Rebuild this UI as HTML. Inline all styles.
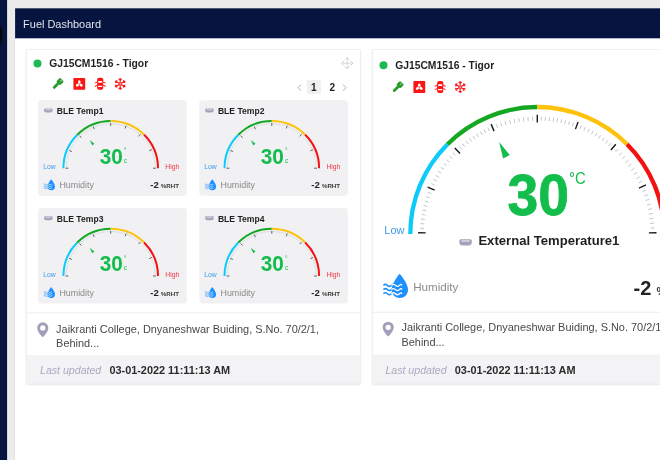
<!DOCTYPE html>
<html><head><meta charset="utf-8"><title>Fuel Dashboard</title>
<style>
html,body{margin:0;padding:0;}
body{width:660px;height:460px;overflow:hidden;background:#ebebeb;font-family:"Liberation Sans",sans-serif;}
svg{display:block;font-family:"Liberation Sans",sans-serif;}
text{white-space:pre;}
</style></head>
<body>
<svg width="660" height="460" viewBox="0 0 660 460">
<defs><filter id="sh" x="-5%" y="-5%" width="110%" height="110%"><feGaussianBlur stdDeviation="1"/></filter></defs><rect x="0" y="0" width="660" height="460" fill="#ebebeb"/><rect x="0" y="0" width="7.100" height="460" fill="#06153f"/><circle cx="-21.600" cy="35.300" r="24" fill="#05070f"/><rect x="14.400" y="38" width="1" height="422" fill="#e0e0e0"/><rect x="15.100" y="8.300" width="645" height="452" fill="#fff"/><rect x="15.100" y="8.300" width="645" height="30" fill="#06153f"/><text x="23.1" y="27.9" font-size="10.96" fill="#e1e4ee">Fuel Dashboard</text><rect x="26.6" y="50.8" width="333.7" height="333.5" fill="#000" opacity="0.160" filter="url(#sh)"/><rect x="26.1" y="49.3" width="334.7" height="334.5" fill="#e6e6e9"/><rect x="26.6" y="49.8" width="333.7" height="333.5" fill="#fff"/><rect x="26.6" y="355.2" width="333.7" height="28.1" fill="#f3f3f6"/><rect x="26.6" y="312.3" width="333.7" height="1" fill="#ededee"/><rect x="372.7" y="50.8" width="334" height="333.5" fill="#000" opacity="0.160" filter="url(#sh)"/><rect x="372.2" y="49.3" width="335" height="334.5" fill="#e6e6e9"/><rect x="372.7" y="49.8" width="334" height="333.5" fill="#fff"/><rect x="372.7" y="354.5" width="334" height="28.8" fill="#f3f3f6"/><rect x="372.7" y="311.7" width="334" height="1" fill="#ededee"/><circle cx="37.500" cy="63.600" r="4" fill="#1db954"/><text x="49.2" y="67.4" font-size="10.32" font-weight="700" fill="#1f1f1f">GJ15CM1516 - Tigor</text><g transform="translate(52.3 78.1)"><g transform="rotate(45 5.700 5.500)" fill="#2a9b2f"><rect x="2.900" y="-0.200" width="5.600" height="5.600" rx="1.300"/><rect x="4.300" y="4.800" width="2.800" height="7.400" rx="1.200"/><rect x="5.100" y="0.700" width="1.300" height="1.500" rx="0.500" fill="#b5e2b5"/></g></g><g transform="translate(73.4 77.9)"><rect x="0" y="0" width="11.800" height="11.800" rx="0.600" fill="#fb1616"/><g fill="#fff" transform="translate(5.900 6.200)"><ellipse cx="0" cy="-2.100" rx="1.300" ry="1.700" transform="rotate(0)"/><ellipse cx="0" cy="-2.100" rx="1.300" ry="1.700" transform="rotate(120)"/><ellipse cx="0" cy="-2.100" rx="1.300" ry="1.700" transform="rotate(240)"/><circle cx="0" cy="0" r="1.100"/></g><circle cx="5.900" cy="6.200" r="0.600" fill="#fb1616"/></g><g transform="translate(94.4 77.8)" fill="#fb1616"><rect x="2.700" y="0" width="6.200" height="12" rx="2"/><path d="M0.200 5L2.800 3.600V4.700L0.600 5.800ZM11.400 5L8.800 3.600V4.700L11 5.800ZM0.200 8.300L2.800 6.900V8L0.600 9.100ZM11.400 8.300L8.800 6.900V8L11 9.100Z"/><rect x="3.600" y="3.300" width="4.400" height="1.600" rx="0.800" fill="#fff"/><rect x="3.600" y="8" width="4.400" height="1.300" rx="0.600" fill="#fff"/></g><g transform="translate(120.2 83.9)" stroke="#fb1616" stroke-width="1.100" fill="none"><g transform="rotate(0)"><path d="M0 -6V-1.300M0 1.300V6M-1.500 -5L0 -3.600L1.500 -5M-1.500 5L0 3.600L1.500 5"/></g><g transform="rotate(60)"><path d="M0 -6V-1.300M0 1.300V6M-1.500 -5L0 -3.600L1.500 -5M-1.500 5L0 3.600L1.500 5"/></g><g transform="rotate(120)"><path d="M0 -6V-1.300M0 1.300V6M-1.500 -5L0 -3.600L1.500 -5M-1.500 5L0 3.600L1.500 5"/></g><rect x="-1.100" y="-1.100" width="2.200" height="2.200" stroke-width="0.900"/></g><g transform="translate(347.2 63.2)" stroke="#c2c2c6" stroke-width="0.900" fill="none" stroke-linecap="round" stroke-linejoin="round"><path d="M-1.900 -3.700L0 -5.600L1.900 -3.700M-1.900 3.700L0 5.600L1.900 3.700M-3.700 -1.900L-5.600 0L-3.700 1.900M3.700 -1.900L5.600 0L3.700 1.900"/><path d="M0 -3.600V3.600M-3.600 0H3.600" stroke-dasharray="0.900 1.300" stroke-width="0.800"/></g><rect x="306.800" y="80" width="14.100" height="14" rx="1" fill="#f0f0f0"/><path d="M301 84.600L298 87.700L301 90.800M343 84.600L346 87.700L343 90.800" stroke="#9a9a9a" stroke-width="0.800" fill="none"/><text x="313.8" y="90.6" font-size="10.1" font-weight="700" fill="#222" text-anchor="middle">1</text><text x="332.3" y="90.6" font-size="10.1" font-weight="700" fill="#222" text-anchor="middle">2</text><rect x="38.2" y="100.2" width="148.600" height="95.600" rx="3" fill="#f1f1f3"/><g transform="translate(44.1 108.4)"><path d="M1.02 0H7.47Q8.5 0 8.5 1.23V2.05Q8.5 4.1 6.45 4.1H2.05Q0 4.1 0 2.05V1.23Q0 0 1.02 0Z" fill="#a5a2ba"/><rect x="1.36" y="0.57" width="5.78" height="1.23" rx="0.61" fill="#cfcddb"/></g><text x="56.8" y="114.3" font-size="8.6" font-weight="700" fill="#1f1f1f">BLE Temp1</text><path d="M63.4 168.2A47.3 47.3 0 0 1 77.25 134.75" stroke="#0ccbfa" stroke-width="2" fill="none"/><path d="M77.25 134.75A47.3 47.3 0 0 1 110.7 120.9" stroke="#14a722" stroke-width="2" fill="none"/><path d="M110.7 120.9A47.3 47.3 0 0 1 144.15 134.75" stroke="#fdc20d" stroke-width="2" fill="none"/><path d="M144.15 134.75A47.3 47.3 0 0 1 158 168.2" stroke="#f31212" stroke-width="2" fill="none"/><path d="M65.64 166.38L66.84 166.43M65.75 164.57L66.94 164.66M65.93 162.76L67.12 162.9M66.19 160.96L67.37 161.15M66.51 159.17L67.69 159.41M66.91 157.4L68.08 157.68M67.38 155.64L68.54 155.97M67.93 153.9L69.06 154.28M68.54 152.19L69.66 152.62M69.96 148.85L71.05 149.36M70.78 147.22L71.84 147.78M71.65 145.63L72.69 146.23M72.6 144.07L73.61 144.72M73.6 142.56L74.59 143.24M74.66 141.08L75.62 141.8M75.78 139.65L76.71 140.41M76.96 138.27L77.86 139.07M78.2 136.93L79.06 137.77M80.7 134.53L81.5 135.42M81.95 133.45L82.72 134.37M83.24 132.42L83.98 133.37M84.57 131.44L85.27 132.42M85.94 130.51L86.6 131.51M87.34 129.62L87.96 130.65M88.77 128.79L89.35 129.84M90.23 128.02L90.77 129.08M91.71 127.29L92.22 128.38M94.89 125.96L95.31 127.09M96.58 125.37L96.96 126.51M98.3 124.84L98.63 125.99M100.03 124.38L100.32 125.55M101.79 123.99L102.02 125.17M103.55 123.67L103.74 124.85M105.33 123.42L105.47 124.61M107.11 123.24L107.21 124.44M108.91 123.14L108.95 124.33M112.27 123.13L112.23 124.33M113.85 123.21L113.76 124.41M115.41 123.35L115.29 124.54M116.98 123.54L116.81 124.73M118.53 123.79L118.32 124.97M120.08 124.09L119.83 125.26M121.61 124.44L121.32 125.6M123.13 124.85L122.8 126M124.64 125.31L124.27 126.45M127.68 126.42L127.23 127.53M129.22 127.08L128.72 128.17M130.72 127.79L130.19 128.86M132.21 128.56L131.63 129.61M133.66 129.38L133.05 130.41M135.08 130.26L134.43 131.27M136.47 131.18L135.78 132.17M137.82 132.16L137.1 133.12M139.13 133.19L138.37 134.12M141.83 135.57L141 136.44M143.2 136.93L142.33 137.76M144.5 138.35L143.6 139.14M145.75 139.82L144.82 140.57M146.93 141.34L145.97 142.06M148.05 142.92L147.05 143.59M149.09 144.53L148.07 145.16M150.07 146.2L149.02 146.78M150.97 147.9L149.9 148.44M152.55 151.4L151.44 151.85M153.23 153.19L152.1 153.59M153.83 155.01L152.68 155.36M154.35 156.85L153.19 157.15M154.79 158.71L153.62 158.96M155.15 160.59L153.97 160.79M155.44 162.48L154.25 162.63M155.64 164.38L154.44 164.48M155.76 166.29L154.56 166.34" stroke="#b9bec6" stroke-width="0.55" fill="none"/><path d="M65.5 168.2L68.4 168.2M69.12 150.47L71.79 151.6M79.42 135.58L81.42 137.67M93.18 126.53L94.31 129.21M110.7 123L110.7 125.9M126.16 125.73L125.17 128.45M140.47 134.19L138.56 136.37M151.9 149.6L149.25 150.79M155.9 168.2L153 168.2" stroke="#505050" stroke-width="0.9" fill="none"/><polygon points="89.7,139.9 92.25,145.4 94.4,143.75" fill="#13bd4c"/><text x="43.2" y="169.1" font-size="6.8" fill="#3d9be9">Low</text><text x="179.3" y="169.1" font-size="6.8" fill="#f0364a" text-anchor="end">High</text><text transform="translate(99.7 163.6) scale(0.92 1)" font-size="22.6" font-weight="700" fill="#13bd4c">30</text><text x="123.8" y="153.2" font-size="6.5" fill="#13bd4c">°</text><text x="123.8" y="162.5" font-size="6.5" fill="#13bd4c">c</text><g transform="translate(43.5 178.6) scale(0.45)"><path d="M17 1.300C17 1.300 9 10.800 9 17.400A8 8 0 0 0 25.500 17.400C25.500 10.800 17 1.300 17 1.300Z" fill="#1e90ff"/><path d="M0.800 13q2-2 4 0t4 0t4 0t4 0M0.800 17.200q2-2 4 0t4 0t4 0t4 0M0.800 21.400q2-2 4 0t4 0t4 0t4 0" stroke="#1e90ff" stroke-width="1.500" fill="none"/><path d="M8.800 13q2-2 4 0t4 0t2.500 0M8.800 17.200q2-2 4 0t4 0t2.500 0M8.800 21.400q2-2 4 0t4 0t2.500 0" stroke="#fff" stroke-width="1.300" fill="none"/></g><text x="59.4" y="187.9" font-size="8.9" fill="#8a8a8a">Humidity</text><text x="158.8" y="187.9" font-size="9.6" font-weight="700" fill="#222" text-anchor="end">-2</text><text x="179" y="187.9" font-size="6.2" font-weight="700" fill="#3a3a3a" text-anchor="end">%RHT</text><rect x="199.3" y="100.2" width="148.600" height="95.600" rx="3" fill="#f1f1f3"/><g transform="translate(205.2 108.4)"><path d="M1.02 0H7.47Q8.5 0 8.5 1.23V2.05Q8.5 4.1 6.45 4.1H2.05Q0 4.1 0 2.05V1.23Q0 0 1.02 0Z" fill="#a5a2ba"/><rect x="1.36" y="0.57" width="5.78" height="1.23" rx="0.61" fill="#cfcddb"/></g><text x="217.9" y="114.3" font-size="8.6" font-weight="700" fill="#1f1f1f">BLE Temp2</text><path d="M224.5 168.2A47.3 47.3 0 0 1 238.35 134.75" stroke="#0ccbfa" stroke-width="2" fill="none"/><path d="M238.35 134.75A47.3 47.3 0 0 1 271.8 120.9" stroke="#14a722" stroke-width="2" fill="none"/><path d="M271.8 120.9A47.3 47.3 0 0 1 305.25 134.75" stroke="#fdc20d" stroke-width="2" fill="none"/><path d="M305.25 134.75A47.3 47.3 0 0 1 319.1 168.2" stroke="#f31212" stroke-width="2" fill="none"/><path d="M226.74 166.38L227.94 166.43M226.85 164.57L228.04 164.66M227.03 162.76L228.22 162.9M227.29 160.96L228.47 161.15M227.61 159.17L228.79 159.41M228.01 157.4L229.18 157.68M228.48 155.64L229.64 155.97M229.03 153.9L230.16 154.28M229.64 152.19L230.76 152.62M231.06 148.85L232.15 149.36M231.88 147.22L232.94 147.78M232.75 145.63L233.79 146.23M233.7 144.07L234.71 144.72M234.7 142.56L235.69 143.24M235.76 141.08L236.72 141.8M236.88 139.65L237.81 140.41M238.06 138.27L238.96 139.07M239.3 136.93L240.16 137.77M241.8 134.53L242.6 135.42M243.05 133.45L243.82 134.37M244.34 132.42L245.08 133.37M245.67 131.44L246.37 132.42M247.04 130.51L247.7 131.51M248.44 129.62L249.06 130.65M249.87 128.79L250.45 129.84M251.33 128.02L251.87 129.08M252.81 127.29L253.32 128.38M255.99 125.96L256.41 127.09M257.68 125.37L258.06 126.51M259.4 124.84L259.73 125.99M261.13 124.38L261.42 125.55M262.89 123.99L263.12 125.17M264.65 123.67L264.84 124.85M266.43 123.42L266.57 124.61M268.21 123.24L268.31 124.44M270.01 123.14L270.05 124.33M273.37 123.13L273.33 124.33M274.95 123.21L274.86 124.41M276.51 123.35L276.39 124.54M278.08 123.54L277.91 124.73M279.63 123.79L279.42 124.97M281.18 124.09L280.93 125.26M282.71 124.44L282.42 125.6M284.23 124.85L283.9 126M285.74 125.31L285.37 126.45M288.78 126.42L288.33 127.53M290.32 127.08L289.82 128.17M291.82 127.79L291.29 128.86M293.31 128.56L292.73 129.61M294.76 129.38L294.15 130.41M296.18 130.26L295.53 131.27M297.57 131.18L296.88 132.17M298.92 132.16L298.2 133.12M300.23 133.19L299.47 134.12M302.93 135.57L302.1 136.44M304.3 136.93L303.43 137.76M305.6 138.35L304.7 139.14M306.85 139.82L305.92 140.57M308.03 141.34L307.07 142.06M309.15 142.92L308.15 143.59M310.19 144.53L309.17 145.16M311.17 146.2L310.12 146.78M312.07 147.9L311 148.44M313.65 151.4L312.54 151.85M314.33 153.19L313.2 153.59M314.93 155.01L313.78 155.36M315.45 156.85L314.29 157.15M315.89 158.71L314.72 158.96M316.25 160.59L315.07 160.79M316.54 162.48L315.35 162.63M316.74 164.38L315.54 164.48M316.86 166.29L315.66 166.34" stroke="#b9bec6" stroke-width="0.55" fill="none"/><path d="M226.6 168.2L229.5 168.2M230.22 150.47L232.89 151.6M240.52 135.58L242.52 137.67M254.28 126.53L255.41 129.21M271.8 123L271.8 125.9M287.26 125.73L286.27 128.45M301.57 134.19L299.66 136.37M313 149.6L310.35 150.79M317 168.2L314.1 168.2" stroke="#505050" stroke-width="0.9" fill="none"/><polygon points="250.8,139.9 253.35,145.4 255.5,143.75" fill="#13bd4c"/><text x="204.3" y="169.1" font-size="6.8" fill="#3d9be9">Low</text><text x="340.4" y="169.1" font-size="6.8" fill="#f0364a" text-anchor="end">High</text><text transform="translate(260.8 163.6) scale(0.92 1)" font-size="22.6" font-weight="700" fill="#13bd4c">30</text><text x="284.9" y="153.2" font-size="6.5" fill="#13bd4c">°</text><text x="284.9" y="162.5" font-size="6.5" fill="#13bd4c">c</text><g transform="translate(204.6 178.6) scale(0.45)"><path d="M17 1.300C17 1.300 9 10.800 9 17.400A8 8 0 0 0 25.500 17.400C25.500 10.800 17 1.300 17 1.300Z" fill="#1e90ff"/><path d="M0.800 13q2-2 4 0t4 0t4 0t4 0M0.800 17.200q2-2 4 0t4 0t4 0t4 0M0.800 21.400q2-2 4 0t4 0t4 0t4 0" stroke="#1e90ff" stroke-width="1.500" fill="none"/><path d="M8.800 13q2-2 4 0t4 0t2.500 0M8.800 17.200q2-2 4 0t4 0t2.500 0M8.800 21.400q2-2 4 0t4 0t2.500 0" stroke="#fff" stroke-width="1.300" fill="none"/></g><text x="220.5" y="187.9" font-size="8.9" fill="#8a8a8a">Humidity</text><text x="319.9" y="187.9" font-size="9.6" font-weight="700" fill="#222" text-anchor="end">-2</text><text x="340.1" y="187.9" font-size="6.2" font-weight="700" fill="#3a3a3a" text-anchor="end">%RHT</text><rect x="38.2" y="208" width="148.600" height="95.600" rx="3" fill="#f1f1f3"/><g transform="translate(44.1 216.2)"><path d="M1.02 0H7.47Q8.5 0 8.5 1.23V2.05Q8.5 4.1 6.45 4.1H2.05Q0 4.1 0 2.05V1.23Q0 0 1.02 0Z" fill="#a5a2ba"/><rect x="1.36" y="0.57" width="5.78" height="1.23" rx="0.61" fill="#cfcddb"/></g><text x="56.8" y="222.1" font-size="8.6" font-weight="700" fill="#1f1f1f">BLE Temp3</text><path d="M63.4 276A47.3 47.3 0 0 1 77.25 242.55" stroke="#0ccbfa" stroke-width="2" fill="none"/><path d="M77.25 242.55A47.3 47.3 0 0 1 110.7 228.7" stroke="#14a722" stroke-width="2" fill="none"/><path d="M110.7 228.7A47.3 47.3 0 0 1 144.15 242.55" stroke="#fdc20d" stroke-width="2" fill="none"/><path d="M144.15 242.55A47.3 47.3 0 0 1 158 276" stroke="#f31212" stroke-width="2" fill="none"/><path d="M65.64 274.18L66.84 274.23M65.75 272.37L66.94 272.46M65.93 270.56L67.12 270.7M66.19 268.76L67.37 268.95M66.51 266.97L67.69 267.21M66.91 265.2L68.08 265.48M67.38 263.44L68.54 263.77M67.93 261.7L69.06 262.08M68.54 259.99L69.66 260.42M69.96 256.65L71.05 257.16M70.78 255.02L71.84 255.58M71.65 253.43L72.69 254.03M72.6 251.87L73.61 252.52M73.6 250.36L74.59 251.04M74.66 248.88L75.62 249.6M75.78 247.45L76.71 248.21M76.96 246.07L77.86 246.87M78.2 244.73L79.06 245.57M80.7 242.33L81.5 243.22M81.95 241.25L82.72 242.17M83.24 240.22L83.98 241.17M84.57 239.24L85.27 240.22M85.94 238.31L86.6 239.31M87.34 237.42L87.96 238.45M88.77 236.59L89.35 237.64M90.23 235.82L90.77 236.88M91.71 235.09L92.22 236.18M94.89 233.76L95.31 234.89M96.58 233.17L96.96 234.31M98.3 232.64L98.63 233.79M100.03 232.18L100.32 233.35M101.79 231.79L102.02 232.97M103.55 231.47L103.74 232.65M105.33 231.22L105.47 232.41M107.11 231.04L107.21 232.24M108.91 230.94L108.95 232.13M112.27 230.93L112.23 232.13M113.85 231.01L113.76 232.21M115.41 231.15L115.29 232.34M116.98 231.34L116.81 232.53M118.53 231.59L118.32 232.77M120.08 231.89L119.83 233.06M121.61 232.24L121.32 233.4M123.13 232.65L122.8 233.8M124.64 233.11L124.27 234.25M127.68 234.22L127.23 235.33M129.22 234.88L128.72 235.97M130.72 235.59L130.19 236.66M132.21 236.36L131.63 237.41M133.66 237.18L133.05 238.21M135.08 238.06L134.43 239.07M136.47 238.98L135.78 239.97M137.82 239.96L137.1 240.92M139.13 240.99L138.37 241.92M141.83 243.37L141 244.24M143.2 244.73L142.33 245.56M144.5 246.15L143.6 246.94M145.75 247.62L144.82 248.37M146.93 249.14L145.97 249.86M148.05 250.72L147.05 251.39M149.09 252.33L148.07 252.96M150.07 254L149.02 254.58M150.97 255.7L149.9 256.24M152.55 259.2L151.44 259.65M153.23 260.99L152.1 261.39M153.83 262.81L152.68 263.16M154.35 264.65L153.19 264.95M154.79 266.51L153.62 266.76M155.15 268.39L153.97 268.59M155.44 270.28L154.25 270.43M155.64 272.18L154.44 272.28M155.76 274.09L154.56 274.14" stroke="#b9bec6" stroke-width="0.55" fill="none"/><path d="M65.5 276L68.4 276M69.12 258.27L71.79 259.4M79.42 243.38L81.42 245.47M93.18 234.33L94.31 237.01M110.7 230.8L110.7 233.7M126.16 233.53L125.17 236.25M140.47 241.99L138.56 244.17M151.9 257.4L149.25 258.59M155.9 276L153 276" stroke="#505050" stroke-width="0.9" fill="none"/><polygon points="89.7,247.7 92.25,253.2 94.4,251.55" fill="#13bd4c"/><text x="43.2" y="276.9" font-size="6.8" fill="#3d9be9">Low</text><text x="179.3" y="276.9" font-size="6.8" fill="#f0364a" text-anchor="end">High</text><text transform="translate(99.7 271.4) scale(0.92 1)" font-size="22.6" font-weight="700" fill="#13bd4c">30</text><text x="123.8" y="261" font-size="6.5" fill="#13bd4c">°</text><text x="123.8" y="270.3" font-size="6.5" fill="#13bd4c">c</text><g transform="translate(43.5 286.4) scale(0.45)"><path d="M17 1.300C17 1.300 9 10.800 9 17.400A8 8 0 0 0 25.500 17.400C25.500 10.800 17 1.300 17 1.300Z" fill="#1e90ff"/><path d="M0.800 13q2-2 4 0t4 0t4 0t4 0M0.800 17.200q2-2 4 0t4 0t4 0t4 0M0.800 21.400q2-2 4 0t4 0t4 0t4 0" stroke="#1e90ff" stroke-width="1.500" fill="none"/><path d="M8.800 13q2-2 4 0t4 0t2.500 0M8.800 17.200q2-2 4 0t4 0t2.500 0M8.800 21.400q2-2 4 0t4 0t2.500 0" stroke="#fff" stroke-width="1.300" fill="none"/></g><text x="59.4" y="295.7" font-size="8.9" fill="#8a8a8a">Humidity</text><text x="158.8" y="295.7" font-size="9.6" font-weight="700" fill="#222" text-anchor="end">-2</text><text x="179" y="295.7" font-size="6.2" font-weight="700" fill="#3a3a3a" text-anchor="end">%RHT</text><rect x="199.3" y="208" width="148.600" height="95.600" rx="3" fill="#f1f1f3"/><g transform="translate(205.2 216.2)"><path d="M1.02 0H7.47Q8.5 0 8.5 1.23V2.05Q8.5 4.1 6.45 4.1H2.05Q0 4.1 0 2.05V1.23Q0 0 1.02 0Z" fill="#a5a2ba"/><rect x="1.36" y="0.57" width="5.78" height="1.23" rx="0.61" fill="#cfcddb"/></g><text x="217.9" y="222.1" font-size="8.6" font-weight="700" fill="#1f1f1f">BLE Temp4</text><path d="M224.5 276A47.3 47.3 0 0 1 238.35 242.55" stroke="#0ccbfa" stroke-width="2" fill="none"/><path d="M238.35 242.55A47.3 47.3 0 0 1 271.8 228.7" stroke="#14a722" stroke-width="2" fill="none"/><path d="M271.8 228.7A47.3 47.3 0 0 1 305.25 242.55" stroke="#fdc20d" stroke-width="2" fill="none"/><path d="M305.25 242.55A47.3 47.3 0 0 1 319.1 276" stroke="#f31212" stroke-width="2" fill="none"/><path d="M226.74 274.18L227.94 274.23M226.85 272.37L228.04 272.46M227.03 270.56L228.22 270.7M227.29 268.76L228.47 268.95M227.61 266.97L228.79 267.21M228.01 265.2L229.18 265.48M228.48 263.44L229.64 263.77M229.03 261.7L230.16 262.08M229.64 259.99L230.76 260.42M231.06 256.65L232.15 257.16M231.88 255.02L232.94 255.58M232.75 253.43L233.79 254.03M233.7 251.87L234.71 252.52M234.7 250.36L235.69 251.04M235.76 248.88L236.72 249.6M236.88 247.45L237.81 248.21M238.06 246.07L238.96 246.87M239.3 244.73L240.16 245.57M241.8 242.33L242.6 243.22M243.05 241.25L243.82 242.17M244.34 240.22L245.08 241.17M245.67 239.24L246.37 240.22M247.04 238.31L247.7 239.31M248.44 237.42L249.06 238.45M249.87 236.59L250.45 237.64M251.33 235.82L251.87 236.88M252.81 235.09L253.32 236.18M255.99 233.76L256.41 234.89M257.68 233.17L258.06 234.31M259.4 232.64L259.73 233.79M261.13 232.18L261.42 233.35M262.89 231.79L263.12 232.97M264.65 231.47L264.84 232.65M266.43 231.22L266.57 232.41M268.21 231.04L268.31 232.24M270.01 230.94L270.05 232.13M273.37 230.93L273.33 232.13M274.95 231.01L274.86 232.21M276.51 231.15L276.39 232.34M278.08 231.34L277.91 232.53M279.63 231.59L279.42 232.77M281.18 231.89L280.93 233.06M282.71 232.24L282.42 233.4M284.23 232.65L283.9 233.8M285.74 233.11L285.37 234.25M288.78 234.22L288.33 235.33M290.32 234.88L289.82 235.97M291.82 235.59L291.29 236.66M293.31 236.36L292.73 237.41M294.76 237.18L294.15 238.21M296.18 238.06L295.53 239.07M297.57 238.98L296.88 239.97M298.92 239.96L298.2 240.92M300.23 240.99L299.47 241.92M302.93 243.37L302.1 244.24M304.3 244.73L303.43 245.56M305.6 246.15L304.7 246.94M306.85 247.62L305.92 248.37M308.03 249.14L307.07 249.86M309.15 250.72L308.15 251.39M310.19 252.33L309.17 252.96M311.17 254L310.12 254.58M312.07 255.7L311 256.24M313.65 259.2L312.54 259.65M314.33 260.99L313.2 261.39M314.93 262.81L313.78 263.16M315.45 264.65L314.29 264.95M315.89 266.51L314.72 266.76M316.25 268.39L315.07 268.59M316.54 270.28L315.35 270.43M316.74 272.18L315.54 272.28M316.86 274.09L315.66 274.14" stroke="#b9bec6" stroke-width="0.55" fill="none"/><path d="M226.6 276L229.5 276M230.22 258.27L232.89 259.4M240.52 243.38L242.52 245.47M254.28 234.33L255.41 237.01M271.8 230.8L271.8 233.7M287.26 233.53L286.27 236.25M301.57 241.99L299.66 244.17M313 257.4L310.35 258.59M317 276L314.1 276" stroke="#505050" stroke-width="0.9" fill="none"/><polygon points="250.8,247.7 253.35,253.2 255.5,251.55" fill="#13bd4c"/><text x="204.3" y="276.9" font-size="6.8" fill="#3d9be9">Low</text><text x="340.4" y="276.9" font-size="6.8" fill="#f0364a" text-anchor="end">High</text><text transform="translate(260.8 271.4) scale(0.92 1)" font-size="22.6" font-weight="700" fill="#13bd4c">30</text><text x="284.9" y="261" font-size="6.5" fill="#13bd4c">°</text><text x="284.9" y="270.3" font-size="6.5" fill="#13bd4c">c</text><g transform="translate(204.6 286.4) scale(0.45)"><path d="M17 1.300C17 1.300 9 10.800 9 17.400A8 8 0 0 0 25.500 17.400C25.500 10.800 17 1.300 17 1.300Z" fill="#1e90ff"/><path d="M0.800 13q2-2 4 0t4 0t4 0t4 0M0.800 17.200q2-2 4 0t4 0t4 0t4 0M0.800 21.400q2-2 4 0t4 0t4 0t4 0" stroke="#1e90ff" stroke-width="1.500" fill="none"/><path d="M8.800 13q2-2 4 0t4 0t2.500 0M8.800 17.200q2-2 4 0t4 0t2.500 0M8.800 21.400q2-2 4 0t4 0t2.500 0" stroke="#fff" stroke-width="1.300" fill="none"/></g><text x="220.5" y="295.7" font-size="8.9" fill="#8a8a8a">Humidity</text><text x="319.9" y="295.7" font-size="9.6" font-weight="700" fill="#222" text-anchor="end">-2</text><text x="340.1" y="295.7" font-size="6.2" font-weight="700" fill="#3a3a3a" text-anchor="end">%RHT</text><g transform="translate(37.2 322.3) scale(0.93)"><path fill-rule="evenodd" d="M6 0A6 6 0 0 0 0 6C0 10.500 6 16 6 16C6 16 12 10.500 12 6A6 6 0 0 0 6 0ZM6 3.200A2.800 2.800 0 1 1 6 8.800A2.800 2.800 0 1 1 6 3.200Z" fill="#a39fba"/></g><text x="56.1" y="333" font-size="10.93" fill="#484848">Jaikranti College, Dnyaneshwar Buiding, S.No. 70/2/1,</text><text x="56.1" y="347.4" font-size="10.93" fill="#484848">Behind...</text><text x="40" y="373.5" font-size="10.6" fill="#aba8c1" font-style="italic">Last updated</text><text x="109.4" y="373.5" font-size="10.9" font-weight="700" fill="#2b2b2b">03-01-2022 11:11:13 AM</text><circle cx="383.500" cy="65.300" r="4" fill="#1db954"/><text x="395.2" y="68.6" font-size="10.32" font-weight="700" fill="#1f1f1f">GJ15CM1516 - Tigor</text><g transform="translate(392.3 81.3)"><g transform="rotate(45 5.700 5.500)" fill="#2a9b2f"><rect x="2.900" y="-0.200" width="5.600" height="5.600" rx="1.300"/><rect x="4.300" y="4.800" width="2.800" height="7.400" rx="1.200"/><rect x="5.100" y="0.700" width="1.300" height="1.500" rx="0.500" fill="#b5e2b5"/></g></g><g transform="translate(413.4 81.1)"><rect x="0" y="0" width="11.800" height="11.800" rx="0.600" fill="#fb1616"/><g fill="#fff" transform="translate(5.900 6.200)"><ellipse cx="0" cy="-2.100" rx="1.300" ry="1.700" transform="rotate(0)"/><ellipse cx="0" cy="-2.100" rx="1.300" ry="1.700" transform="rotate(120)"/><ellipse cx="0" cy="-2.100" rx="1.300" ry="1.700" transform="rotate(240)"/><circle cx="0" cy="0" r="1.100"/></g><circle cx="5.900" cy="6.200" r="0.600" fill="#fb1616"/></g><g transform="translate(434.4 81)" fill="#fb1616"><rect x="2.700" y="0" width="6.200" height="12" rx="2"/><path d="M0.200 5L2.800 3.600V4.700L0.600 5.800ZM11.400 5L8.800 3.600V4.700L11 5.800ZM0.200 8.300L2.800 6.900V8L0.600 9.100ZM11.400 8.300L8.800 6.900V8L11 9.100Z"/><rect x="3.600" y="3.300" width="4.400" height="1.600" rx="0.800" fill="#fff"/><rect x="3.600" y="8" width="4.400" height="1.300" rx="0.600" fill="#fff"/></g><g transform="translate(460.2 87.1)" stroke="#fb1616" stroke-width="1.100" fill="none"><g transform="rotate(0)"><path d="M0 -6V-1.300M0 1.300V6M-1.500 -5L0 -3.600L1.500 -5M-1.500 5L0 3.600L1.500 5"/></g><g transform="rotate(60)"><path d="M0 -6V-1.300M0 1.300V6M-1.500 -5L0 -3.600L1.500 -5M-1.500 5L0 3.600L1.500 5"/></g><g transform="rotate(120)"><path d="M0 -6V-1.300M0 1.300V6M-1.500 -5L0 -3.600L1.500 -5M-1.500 5L0 3.600L1.500 5"/></g><rect x="-1.100" y="-1.100" width="2.200" height="2.200" stroke-width="0.900"/></g><path d="M410.3 234A127 127 0 0 1 447.5 144.2" stroke="#0ccbfa" stroke-width="4.3" fill="none"/><path d="M447.5 144.2A127 127 0 0 1 537.3 107" stroke="#14a722" stroke-width="4.3" fill="none"/><path d="M537.3 107A127 127 0 0 1 627.1 144.2" stroke="#fdc20d" stroke-width="4.3" fill="none"/><path d="M627.1 144.2A127 127 0 0 1 664.3 234" stroke="#f31212" stroke-width="4.3" fill="none"/><path d="M420.15 228.17L424.04 228.36M420.46 223.57L424.35 223.92M420.96 218.99L424.83 219.49M421.64 214.44L425.49 215.09M422.5 209.91L426.32 210.71M423.53 205.42L427.32 206.37M424.74 200.98L428.49 202.08M426.13 196.59L429.82 197.83M427.68 192.25L431.33 193.64M431.35 183.67L434.87 185.34M433.46 179.44L436.91 181.25M435.75 175.3L439.12 177.25M438.19 171.25L441.49 173.34M440.8 167.31L444.01 169.53M443.57 163.47L446.69 165.82M446.49 159.75L449.51 162.22M449.56 156.15L452.47 158.74M452.77 152.68L455.58 155.38M459.27 146.42L461.86 149.33M462.53 143.62L465.02 146.62M465.89 140.94L468.27 144.03M469.35 138.39L471.61 141.56M472.9 135.96L475.04 139.22M476.54 133.67L478.56 137M480.25 131.51L482.15 134.91M484.05 129.48L485.82 132.96M487.91 127.6L489.55 131.14M496.18 124.14L497.55 127.8M500.59 122.59L501.81 126.3M505.05 121.22L506.12 124.97M509.56 120.03L510.48 123.82M514.11 119.01L514.89 122.84M518.71 118.18L519.33 122.03M523.33 117.53L523.79 121.41M527.97 117.07L528.28 120.96M532.63 116.79L532.79 120.69M541.39 116.77L541.26 120.67M545.48 116.99L545.21 120.88M549.56 117.34L549.15 121.22M553.63 117.84L553.08 121.7M557.67 118.48L556.99 122.32M561.69 119.26L560.88 123.08M565.68 120.18L564.73 123.97M569.63 121.24L568.56 124.99M573.55 122.44L572.34 126.15M581.47 125.33L580 128.95M585.46 127.04L583.86 130.6M589.38 128.9L587.65 132.39M593.23 130.9L591.38 134.32M597.01 133.03L595.03 136.39M600.7 135.31L598.6 138.59M604.31 137.73L602.08 140.93M607.83 140.27L605.48 143.39M611.25 142.94L608.79 145.97M618.27 149.13L615.57 151.95M621.82 152.66L619.01 155.37M625.22 156.35L622.3 158.93M628.46 160.18L625.43 162.64M631.53 164.15L628.4 166.47M634.43 168.24L631.2 170.42M637.15 172.45L633.83 174.5M639.69 176.77L636.29 178.68M642.05 181.2L638.56 182.96M646.11 190.19L642.49 191.65M647.83 194.73L644.16 196.03M649.36 199.33L645.63 200.49M650.7 204L646.93 204.99M651.84 208.71L648.03 209.55M652.79 213.47L648.95 214.15M653.54 218.26L649.67 218.79M654.09 223.08L650.21 223.45M654.44 227.92L650.55 228.12" stroke="#a9b6bc" stroke-width="0.75" fill="none"/><path d="M418.11 232.75L425.71 232.83M427.66 187.23L434.65 190.22M454.8 147.97L460.06 153.45M491.11 124.11L494.05 131.12M537.3 114.8L537.3 122.4M578.07 121.99L575.47 129.13M615.82 144.31L610.81 150.03M645.94 184.95L639.01 188.07M656.49 232.75L648.89 232.83" stroke="#1c1c1c" stroke-width="1.4" fill="none"/><polygon points="499.1,141.9 503.1,158.5 509.8,155" fill="#13bd4c"/><text x="384.3" y="233.6" font-size="11" fill="#3d9be9">Low</text><text stroke="#13bd4c" stroke-width="0.800" stroke-linejoin="round" transform="translate(507.6 214.6) scale(0.96 1)" font-size="57.6" font-weight="700" fill="#13bd4c">30</text><text transform="translate(569 184.4) scale(0.92 1)" font-size="16.2" fill="#13bd4c">°C</text><g transform="translate(459.3 239.2)"><path d="M1.55 0H10.95Q12.5 0 12.5 1.86V3.1Q12.5 6.2 9.4 6.2H3.1Q0 6.2 0 3.1V1.86Q0 0 1.55 0Z" fill="#a5a2ba"/><rect x="2" y="0.87" width="8.5" height="1.86" rx="0.93" fill="#cfcddb"/></g><text x="478.4" y="245.2" font-size="13.1" font-weight="700" fill="#1f1f1f">External Temperature1</text><g transform="translate(382.6 272.4) scale(1)"><path d="M17 1.300C17 1.300 9 10.800 9 17.400A8 8 0 0 0 25.500 17.400C25.500 10.800 17 1.300 17 1.300Z" fill="#1e90ff"/><path d="M0.800 13q2-2 4 0t4 0t4 0t4 0M0.800 17.200q2-2 4 0t4 0t4 0t4 0M0.800 21.400q2-2 4 0t4 0t4 0t4 0" stroke="#1e90ff" stroke-width="1.500" fill="none"/><path d="M8.800 13q2-2 4 0t4 0t2.500 0M8.800 17.200q2-2 4 0t4 0t2.500 0M8.800 21.400q2-2 4 0t4 0t2.500 0" stroke="#fff" stroke-width="1.300" fill="none"/></g><text x="413.2" y="291" font-size="11.6" fill="#8a8a8a">Humidity</text><text x="633.6" y="295" font-size="20" font-weight="700" fill="#222">-2</text><text x="656.4" y="295" font-size="11" font-weight="700" fill="#3a3a3a">%RHT</text><g transform="translate(382.6 321.7) scale(0.93)"><path fill-rule="evenodd" d="M6 0A6 6 0 0 0 0 6C0 10.500 6 16 6 16C6 16 12 10.500 12 6A6 6 0 0 0 6 0ZM6 3.200A2.800 2.800 0 1 1 6 8.800A2.800 2.800 0 1 1 6 3.200Z" fill="#a39fba"/></g><text x="401.5" y="331.3" font-size="10.93" fill="#484848">Jaikranti College, Dnyaneshwar Buiding, S.No. 70/2/1,</text><text x="401.5" y="345.5" font-size="10.93" fill="#484848">Behind...</text><text x="385.4" y="373.5" font-size="10.6" fill="#aba8c1" font-style="italic">Last updated</text><text x="454.8" y="373.5" font-size="10.9" font-weight="700" fill="#2b2b2b">03-01-2022 11:11:13 AM</text>
</svg>
</body></html>
